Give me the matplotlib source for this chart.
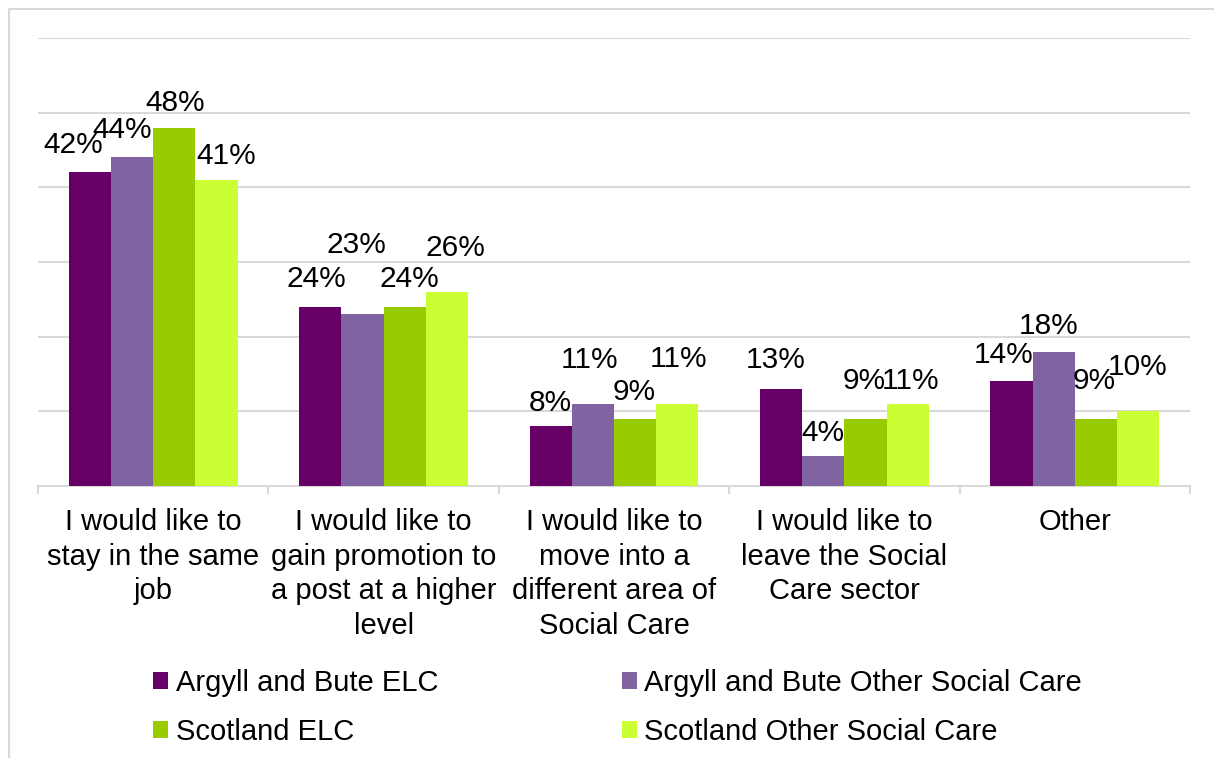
import matplotlib
matplotlib.use("Agg")
import matplotlib.pyplot as plt
from matplotlib.lines import Line2D
from matplotlib.patches import Patch
import numpy as np

plt.rcParams['font.family'] = ['Liberation Sans', 'DejaVu Sans']

categories = [
    "I would like to\nstay in the same\njob",
    "I would like to\ngain promotion to\na post at a higher\nlevel",
    "I would like to\nmove into a\ndifferent area of\nSocial Care",
    "I would like to\nleave the Social\nCare sector",
    "Other",
]
series_names = [
    "Argyll and Bute ELC",
    "Argyll and Bute Other Social Care",
    "Scotland ELC",
    "Scotland Other Social Care",
]
ab_elc = [42, 24, 8, 13, 14]
ab_other = [44, 23, 11, 4, 18]
scot_elc = [48, 24, 9, 9, 9]
scot_other = [41, 26, 11, 11, 10]
series_values = [ab_elc, ab_other, scot_elc, scot_other]
colors = ["#660066", "#8064A2", "#99CC00", "#CCFF33"]

# per-label nudges (pixels) so overlapping value labels stay readable
label_dx = [
    [-17, -4, 0, -5, -8],
    [-10, -6, -3, 0, -5],
    [1, 5, -1, -1, -2],
    [10, 9, 1, 3, 0],
]
label_dy = [
    [27, 28, 23, 29, 26],
    [27, 69, 44, 23, 26],
    [25, 28, 27, 38, 38],
    [24, 44, 45, 23, 44],
]

FS = 21
W, H = 1214, 758
fig = plt.figure(figsize=(W / 100, H / 100), dpi=100)
fig.patch.set_facecolor("white")

# outer chart frame (top and left edges)
fig.add_artist(Line2D([9 / W, 1], [1 - 9 / H, 1 - 9 / H], color="#D9D9D9", lw=1.5))
fig.add_artist(Line2D([9 / W, 9 / W], [0, 1 - 9 / H], color="#D9D9D9", lw=1.5))

ax = fig.add_axes([38 / W, 1 - 486 / H, (1190 - 38) / W, (486 - 38) / H])
x = np.arange(len(categories))
bw = 0.183
offsets = [-1.5, -0.5, 0.5, 1.5]

for i, (vals, col, name) in enumerate(zip(series_values, colors, series_names)):
    bars = ax.bar(x + offsets[i] * bw, vals, width=bw, color=col, label=name, zorder=3)
    for j, (b, v) in enumerate(zip(bars, vals)):
        ax.annotate(f"{v}%", (b.get_x() + b.get_width() / 2, v),
                    xytext=(label_dx[i][j], label_dy[i][j]), textcoords="offset pixels",
                    ha="center", va="center", fontsize=21.5, color="black", zorder=4)

ax.set_xlim(-0.5, len(categories) - 0.5)
ax.set_ylim(0, 60)
ax.set_yticks(np.arange(10, 61, 10))
ax.yaxis.grid(True, color="#D9D9D9", lw=1.5, zorder=0)
ax.tick_params(axis="y", left=False, labelleft=False)

ax.set_xticks(x)
ax.set_xticklabels(categories, fontsize=FS, linespacing=1.3)
ax.tick_params(axis="x", which="major", length=0, pad=16)
ax.set_xticks(np.arange(-0.5, len(categories), 1), minor=True)
ax.tick_params(axis="x", which="minor", length=6, color="#D9D9D9", width=1.5)

for s in ["top", "right", "left"]:
    ax.spines[s].set_visible(False)
ax.spines["bottom"].set_color("#D9D9D9")
ax.spines["bottom"].set_linewidth(1.5)

handles = [Patch(facecolor=c, edgecolor="none") for c in colors]
order = [0, 2, 1, 3]
fig.legend([handles[k] for k in order], [series_names[k] for k in order],
           ncol=2, loc="upper left", bbox_to_anchor=(127 / W, 1 - 643 / H),
           frameon=False, fontsize=FS, handlelength=0.52, handleheight=0.52,
           handletextpad=0.25, columnspacing=6.3, labelspacing=0.7)

fig.savefig("out.png", dpi=100, facecolor="white")
